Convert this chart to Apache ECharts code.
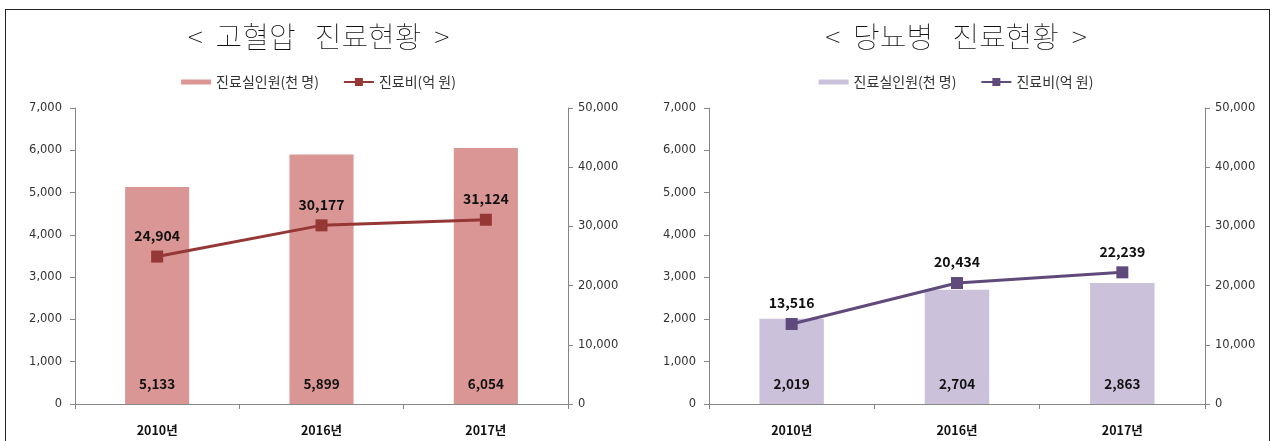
<!DOCTYPE html>
<html><head><meta charset="utf-8">
<script src="https://cdn.jsdelivr.net/npm/echarts@6/dist/echarts.min.js"></script>
<style>
html,body{margin:0;padding:0;background:#fff;width:1275px;height:441px;overflow:hidden;}
#frame{position:absolute;left:5px;top:9px;width:1263px;height:500px;border:1px solid #222;}
#c1{position:absolute;left:0;top:0;width:637px;height:441px;}
#c2{position:absolute;left:637px;top:0;width:638px;height:441px;}
</style></head>
<body>
<div id="frame"></div>
<div id="c1"></div>
<div id="c2"></div>
<script>
const categories = ['2010년', '2016년', '2017년'];
const hyperPatients = [5133, 5899, 6054];
const hyperCost = [24904, 30177, 31124];
const diabPatients = [2019, 2704, 2863];
const diabCost = [13516, 20434, 22239];
const barName = '진료실인원(천 명)';
const lineName = '진료비(억 원)';
const titles = ['<  고혈압   진료현황  >', '<  당뇨병   진료현황  >'];

const font = '"Noto Sans CJK KR", "Noto Sans", sans-serif';
const numFont = '"DejaVu Sans", Verdana, sans-serif';
const fmt = v => v.toLocaleString('en-US');

function yAxisCfg(max, interval, margin) {
  return {
    type: 'value', min: 0, max: max, interval: interval,
    splitLine: { show: false },
    axisLine: { show: true, lineStyle: { color: '#868686' } },
    axisTick: { show: true, length: 5, lineStyle: { color: '#868686' } },
    axisLabel: { formatter: fmt, fontSize: 11.5, color: '#333', margin: margin, fontFamily: numFont }
  };
}

function makeOption(title, bars, line, barColor, lineColor, grid) {
  return {
    animation: false,
    textStyle: { fontFamily: font },
    title: {
      text: title, left: 'center', top: 17,
      textStyle: { fontFamily: font, fontSize: 29, fontWeight: 'lighter', color: '#111' }
    },
    legend: {
      top: 70, left: 'center', itemGap: 24, itemWidth: 30, itemHeight: 10,
      textStyle: { fontFamily: font, fontSize: 14, color: '#333' },
      data: [
        { name: barName, icon: 'path://M0,0L0.01,0M0,2.5H30V7.5H0ZM0,10L0.01,10' },
        { name: lineName }
      ]
    },
    grid: grid,
    xAxis: {
      type: 'category', data: categories,
      axisLine: { lineStyle: { color: '#868686' } },
      axisTick: { show: true, length: 5, interval: 0, lineStyle: { color: '#868686' } },
      axisLabel: { margin: 20, fontFamily: font, fontSize: 12.5, fontWeight: 'bold', color: '#111' }
    },
    yAxis: [ yAxisCfg(7000, 1000, 13), yAxisCfg(50000, 10000, 10) ],
    series: [
      {
        name: barName, type: 'bar', data: bars, barWidth: '39%',
        itemStyle: { color: barColor },
        label: {
          show: true, position: 'insideBottom', distance: 13,
          formatter: p => fmt(p.value),
          fontFamily: font, fontSize: 13.5, fontWeight: 'bold', color: '#111'
        }
      },
      {
        name: lineName, type: 'line', yAxisIndex: 1, data: line,
        symbol: 'rect', symbolSize: 12,
        lineStyle: { color: lineColor, width: 3 },
        itemStyle: { color: lineColor },
        label: {
          show: true, position: 'top', distance: 8,
          formatter: p => fmt(p.value),
          fontFamily: font, fontSize: 14, fontWeight: 'bold', color: '#111'
        }
      }
    ]
  };
}

const c1 = echarts.init(document.getElementById('c1'));
c1.setOption(makeOption(titles[0], hyperPatients, hyperCost, '#D99694', '#953735',
  { left: 75, right: 69, top: 108, bottom: 37 }));
const c2 = echarts.init(document.getElementById('c2'));
c2.setOption(makeOption(titles[1], diabPatients, diabCost, '#CCC1DA', '#604A7B',
  { left: 72, right: 70, top: 108, bottom: 37 }));
</script>
</body></html>
